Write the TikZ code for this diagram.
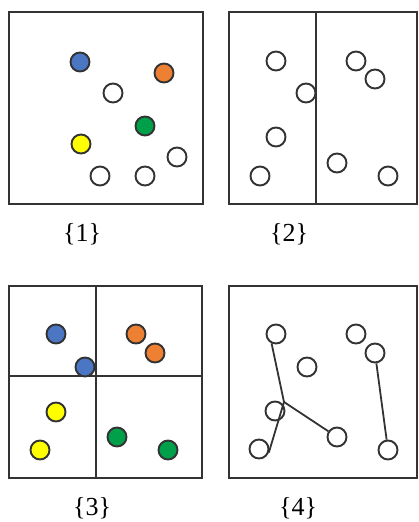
\documentclass[tikz,border=0pt]{standalone}
\usepackage{fontspec}
\setmainfont{Liberation Serif}
\definecolor{frame}{HTML}{333333}
\definecolor{cblue}{HTML}{4A76C4}
\definecolor{corange}{HTML}{EE8033}
\definecolor{cgreen}{HTML}{00A04A}
\definecolor{cyellow}{HTML}{FFFF00}
\begin{document}
\begin{tikzpicture}[x=1pt,y=-1pt,
  box/.style={draw=frame,line width=2pt},
  dot/.style={circle,draw=frame,line width=1.9pt,minimum size=19pt,inner sep=0pt,fill=white},
  lab/.style={font=\fontsize{26}{26}\selectfont,anchor=base,inner sep=0pt},
  edge/.style={draw=frame,line width=1.8pt}]
\useasboundingbox (0,0) rectangle (419,522);
% panel 1
\draw[box] (9,12) rectangle (203,204);
\node[dot,fill=cblue] (a1) at (80,62) {};
\node[dot,fill=corange] (a2) at (164,73) {};
\node[dot] (a3) at (113,93) {};
\node[dot,fill=cgreen] (a4) at (145,126) {};
\node[dot,fill=cyellow] (a5) at (81,144) {};
\node[dot] (a6) at (177,157) {};
\node[dot] (a7) at (100,176) {};
\node[dot] (a8) at (145,176) {};
\node[lab] (l1) at (82,241) {\{1\}};
% panel 2
\draw[box] (229,12) rectangle (417,204);
\draw[box] (316,12) -- (316,204);
\node[dot] (b1) at (276,61) {};
\node[dot] (b2) at (306,93) {};
\node[dot] (b3) at (356,61) {};
\node[dot] (b4) at (375,79) {};
\node[dot] (b5) at (276,137) {};
\node[dot] (b6) at (260,176) {};
\node[dot] (b7) at (337,163) {};
\node[dot] (b8) at (388,176) {};
\node[lab] (l2) at (289,241) {\{2\}};
% panel 3
\draw[box] (9,286) rectangle (202,478);
\draw[box] (96,286) -- (96,478);
\draw[box] (9,376) -- (202,376);
\node[dot,fill=cblue] (c1) at (56,334) {};
\node[dot,fill=cblue] (c2) at (85,367) {};
\node[dot,fill=corange] (c3) at (136,334) {};
\node[dot,fill=corange] (c4) at (155,353) {};
\node[dot,fill=cyellow] (c5) at (56,412) {};
\node[dot,fill=cyellow] (c6) at (40,450) {};
\node[dot,fill=cgreen] (c7) at (117,437) {};
\node[dot,fill=cgreen] (c8) at (168,450) {};
\node[lab] (l3) at (92,515) {\{3\}};
% panel 4
\draw[box] (229,286) rectangle (417,478);
\node[dot] (d1) at (276,334) {};
\node[dot] (d2) at (307,367) {};
\node[dot] (d3) at (356,334) {};
\node[dot] (d4) at (375,353) {};
\node[dot] (d5) at (275,411) {};
\node[dot] (d6) at (259,449) {};
\node[dot] (d7) at (337,437) {};
\node[dot] (d8) at (388,450) {};
\coordinate (j) at (284,402);
\draw[edge] (d1.245) -- (j);
\draw[edge] (j) -- (d7);
\draw[edge] (j) -- (d6.-20);
\draw[edge] (d4) -- (d8);
\node[lab] (l4) at (298,515) {\{4\}};
\end{tikzpicture}
\end{document}
